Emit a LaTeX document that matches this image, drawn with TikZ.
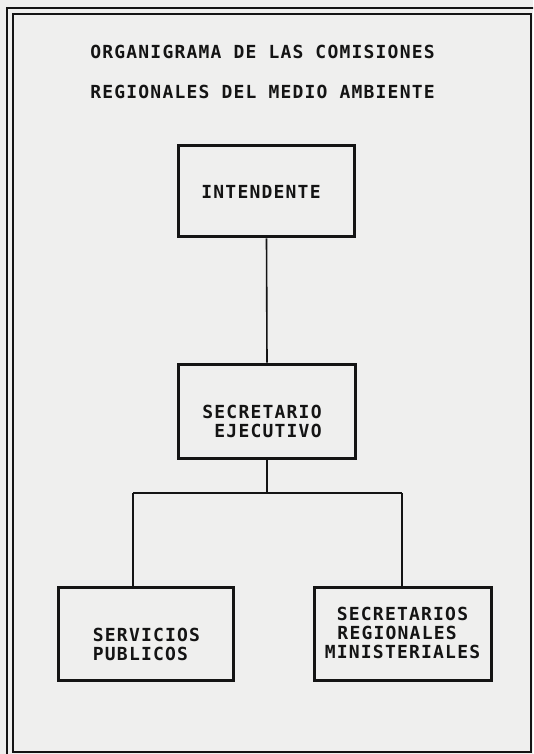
\documentclass[tikz,border=0pt]{standalone}
\usepackage{fontspec}
\newfontfamily\orgfont{DejaVu Sans Mono}[BoldFont={DejaVu Sans Mono Bold}, LetterSpace=6.7]
\definecolor{paper}{HTML}{EFEFEE}
\definecolor{ink}{HTML}{141414}
\begin{document}
\begin{tikzpicture}[x=1pt,y=-1pt,
  txt/.style={font=\orgfont\bfseries\fontsize{18}{19}\selectfont, text=ink, inner sep=0pt},
  orgbox/.style={draw=ink, line width=3.8pt, minimum width=#1, minimum height=92pt, inner sep=0pt},
  conn/.style={draw=ink, line width=1.6pt},
  frame/.style={draw=ink, line width=2pt}]
\useasboundingbox (0,0) rectangle (533,754);
\fill[paper] (0,0) rectangle (533,754);
\begin{scope}
\clip (0,0) rectangle (533,754);
\draw[frame] (7,8) rectangle (545,770);
\draw[frame] (13,14) rectangle (531,752);
\end{scope}
% titles
\node[txt] (t1) at (262.5,52) {ORGANIGRAMA DE LAS COMISIONES};
\node[txt] (t2) at (262.5,92) {REGIONALES DEL MEDIO AMBIENTE};
% boxes
\node[orgbox=176pt, minimum height=91pt] (int) at (266.5,191) {};
\node[orgbox=177pt, minimum height=94pt] (se) at (267,411.5) {};
\node[orgbox=175pt, minimum height=93pt] (sp) at (146,634) {};
\node[orgbox=177pt, minimum height=93pt] (srm) at (403,634) {};
% box texts
\node[txt] (intt) at (261,192) {INTENDENTE};
\node[txt, align=right] (set) at (262,421) {SECRETARIO\\EJECUTIVO};
\node[txt, align=left] (spt) at (146.5,644) {SERVICIOS\\PUBLICOS};
\node[txt, align=center] (srmt) at (402.5,633) {SECRETARIOS\\REGIONALES\hphantom{X}\\MINISTERIALES};
% connectors
\coordinate (j) at (267,493);
\coordinate (jl) at (133,493);
\coordinate (jr) at (402,493);
\draw[conn] (int.south) -- (se.north);
\draw[conn] (se.south) -- (j);
\draw[conn] (jl) -- (jr);
\draw[conn] (jl) -- (jl |- sp.north);
\draw[conn] (jr) -- (jr |- srm.north);
\end{tikzpicture}
\end{document}
